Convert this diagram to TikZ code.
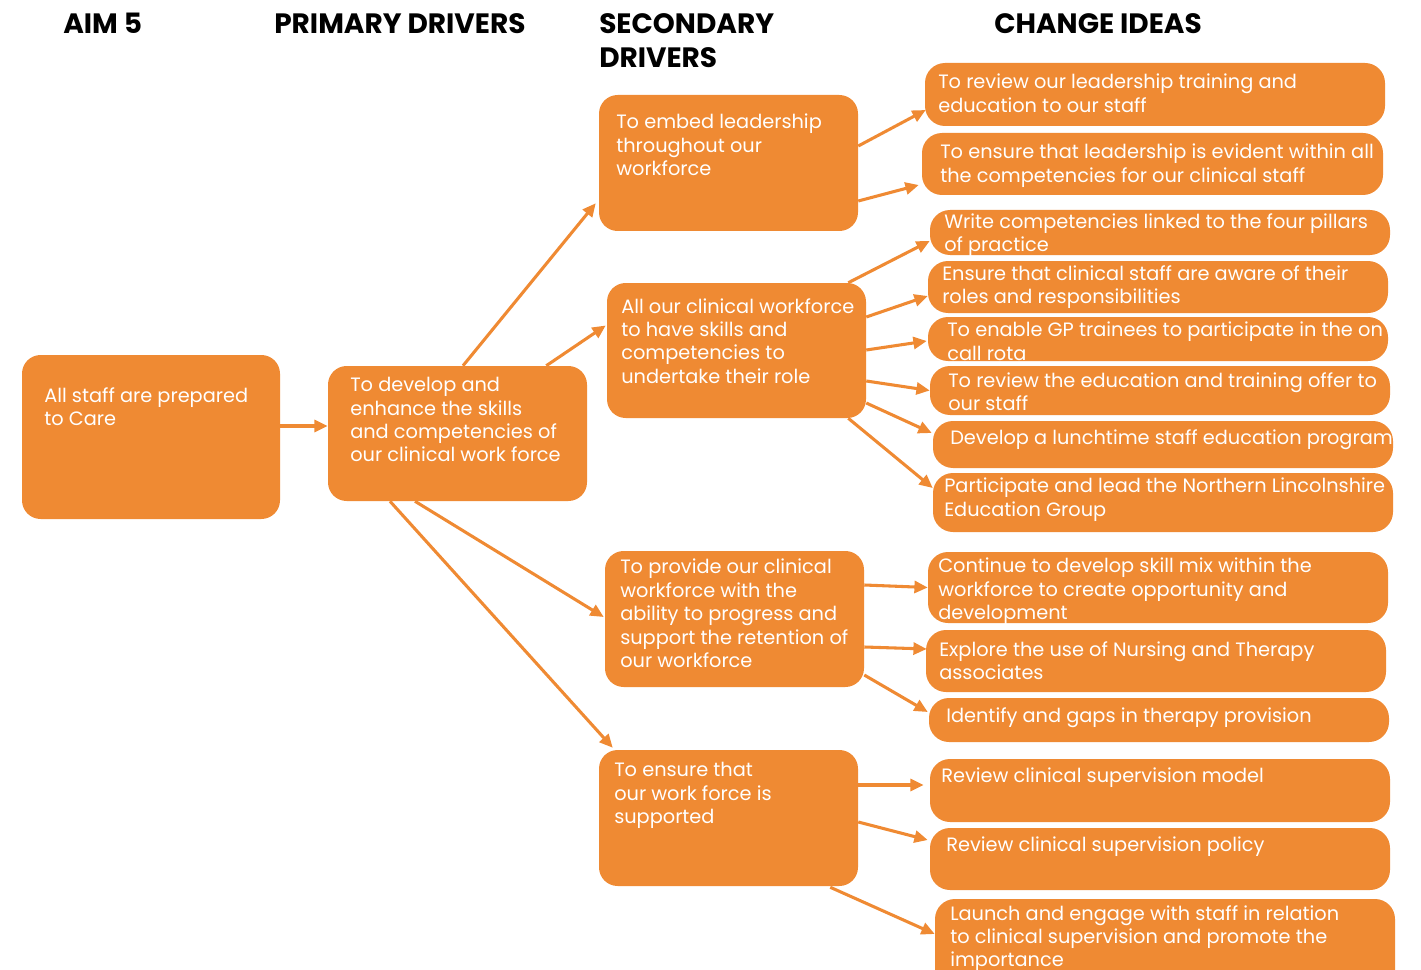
\documentclass[tikz,border=0pt]{standalone}
\usepackage{fontspec}
\setmainfont{Poppins}
\usetikzlibrary{arrows.meta,fit,calc}
\definecolor{org}{HTML}{EF8A33}
\tikzset{
 box/.style={fill=org, draw=none, rounded corners=14pt, inner sep=0pt},
 cbox/.style={box, rounded corners=15pt},
 txt/.style={anchor=north west, inner sep=0pt, align=left, text=white, font=\fontsize{14.5}{17.6}\selectfont},
 hdr/.style={anchor=north west, inner sep=0pt, align=left, font=\fontsize{21}{25.5}\selectfont\bfseries},
 arr/.style={draw=org, line width=2.3pt, -{Triangle[length=10pt,width=9pt]}},
}
\begin{document}
\begin{tikzpicture}[x=0.75pt,y=-0.75pt]
\clip (0,0) rectangle (1421,970);
% headers
\node[hdr] (h1) at (63,13) {AIM 5};
\node[hdr] (h2) at (274,13) {PRIMARY DRIVERS};
\node[hdr] (h3) at (599,13) {SECONDARY\\DRIVERS};
\node[hdr] (h4) at (994,13) {CHANGE IDEAS};
% aim and primary
\node[box, fit={(22,355)(280,519)}] (aim) {};
\node[txt] (aimT) at (44,387) {All staff are prepared\\to Care};
\node[box, fit={(328,366)(587,501)}] (prim) {};
\node[txt] (primT) at (350,377) {To develop and\\enhance the skills\\and competencies of\\our clinical work force};
% secondary
\node[box, fit={(599,95)(858,231)}] (s1) {};
\node[txt] (s1T) at (616,114) {To embed leadership\\throughout our\\workforce};
\node[box, fit={(607,283)(866,418)}] (s2) {};
\node[txt] (s2T) at (621,298) {All our clinical workforce\\to have skills and\\competencies to\\undertake their role};
\node[box, fit={(605,551)(864,687)}] (s3) {};
\node[txt] (s3T) at (620,559) {To provide our clinical\\workforce with the\\ability to progress and\\support the retention of\\our workforce};
\node[box, fit={(599,750)(858,886)}] (s4) {};
\node[txt] (s4T) at (614,762) {To ensure that\\our work force is\\supported};
% change ideas
\node[cbox, fit={(925,63)(1385,126)}] (c1) {};
\node[txt] (c1T) at (938,74) {To review our leadership training and\\education to our staff};
\node[cbox, fit={(922,133)(1383,195)}] (c2) {};
\node[txt] (c2T) at (940,144) {To ensure that leadership is evident within all\\the competencies for our clinical staff};
\node[cbox, fit={(930,210)(1390,255)}] (c3) {};
\node[txt] (c3T) at (944,213) {Write competencies linked to the four pillars\\of practice};
\node[cbox, fit={(928,261)(1388,313)}] (c4) {};
\node[txt] (c4T) at (942,265) {Ensure that clinical staff are aware of their\\roles and responsibilities};
\node[cbox, fit={(928,317)(1388,361)}] (c5) {};
\node[txt] (c5T) at (947,322) {To enable GP trainees to participate in the on\\call rota};
\node[cbox, fit={(930,366)(1390,415)}] (c6) {};
\node[txt] (c6T) at (948,372) {To review the education and training offer to\\our staff};
\node[cbox, fit={(933,421)(1393,468)}] (c7) {};
\node[txt] (c7T) at (950,429) {Develop a lunchtime staff education program};
\node[cbox, fit={(933,473)(1393,532)}] (c8) {};
\node[txt] (c8T) at (944,478) {Participate and lead the Northern Lincolnshire\\Education Group};
\node[cbox, fit={(928,552)(1388,623)}] (c9) {};
\node[txt] (c9T) at (938,558) {Continue to develop skill mix within the\\workforce to create opportunity and\\development};
\node[cbox, fit={(926,630)(1386,692)}] (c10) {};
\node[txt] (c10T) at (939,641) {Explore the use of Nursing and Therapy\\associates};
\node[cbox, fit={(929,698)(1389,742)}] (c11) {};
\node[txt] (c11T) at (946,707) {Identify and gaps in therapy provision};
\node[cbox, fit={(930,759)(1390,822)}] (c12) {};
\node[txt] (c12T) at (941,768) {Review clinical supervision model};
\node[cbox, fit={(930,828)(1390,890)}] (c13) {};
\node[txt] (c13T) at (946,837) {Review clinical supervision policy};
\node[cbox, fit={(935,899)(1395,1000)}] (c14) {};
\node[txt] (c14T) at (950,905) {Launch and engage with staff in relation\\to clinical supervision and promote the\\importance};
% arrows
\draw[arr] ($(aim.east)+(0,-11)$) coordinate (a0) -- (a0 -| prim.west);
\draw[arr] ($(prim.north)+(5.5,0)$) -- ($(s1.south west)+(-3,-28)$);
\draw[arr] ($(prim.north east)+(-41,0)$) -- ($(s2.west)+(-1,-25)$);
\draw[arr] ($(prim.south)+(-42.5,0)$) -- ($(s3.west)+(-1,-2)$);
\draw[arr] ($(prim.south)+(-67.5,0)$) -- ($(s4.north west)+(14,-2)$);
\draw[arr] ($(s1.east)+(0,-17)$) -- ($(c1.west)+(1,15.5)$);
\draw[arr] ($(s1.east)+(0,38)$) -- ($(c2.west)+(-3,21)$);
\draw[arr] ($(s2.north east)+(-18,0)$) -- ($(c3.west)+(0,8.5)$);
\draw[arr] ($(s2.east)+(0,-33.5)$) -- ($(c4.west)+(0,9)$);
\draw[arr] ($(s2.east)+(0,-0.5)$) -- ($(c5.west)+(-1,2)$);
\draw[arr] ($(s2.east)+(0,30.5)$) -- (c6.west);
\draw[arr] ($(s2.east)+(0,52.5)$) -- ($(c7.west)+(-1,-11.5)$);
\draw[arr] ($(s2.south east)+(-18,0)$) -- ($(c8.west)+(0,-14.5)$);
\draw[arr] ($(s3.east)+(0,-34)$) -- (c9.west);
\draw[arr] ($(s3.east)+(0,28)$) -- ($(c10.west)+(1,-12)$);
\draw[arr] ($(s3.east)+(0,56)$) -- ($(c11.west)+(-1,-8)$);
\draw[arr] ($(s4.east)+(0,-33)$) -- ($(c12.west)+(-6,-5.5)$);
\draw[arr] ($(s4.east)+(0,4)$) -- ($(c13.west)+(-2,-19)$);
\draw[arr] ($(s4.south east)+(-28,1)$) -- ($(c14.west)+(0,-15.5)$);
\end{tikzpicture}
\end{document}
